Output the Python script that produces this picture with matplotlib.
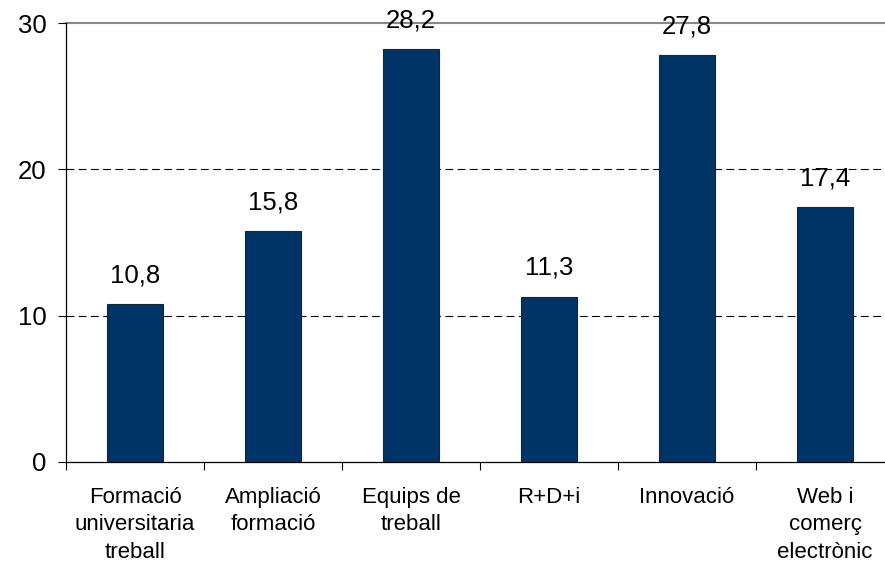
import matplotlib
matplotlib.use("Agg")
import matplotlib.pyplot as plt
import numpy as np

categories = ["Formació\nuniversitaria\ntreball", "Ampliació\nformació", "Equips de\ntreball",
              "R+D+i", "Innovació", "Web i\ncomerç\nelectrònic"]
values = [10.8, 15.8, 28.2, 11.3, 27.8, 17.4]
value_labels = ["10,8", "15,8", "28,2", "11,3", "27,8", "17,4"]
yticks = [0, 10, 20, 30]

plt.rcParams["font.family"] = ["Liberation Sans", "DejaVu Sans"]

fig = plt.figure(figsize=(8.85, 5.63), dpi=100)
ax = fig.add_axes([0.0746, 0.1794, 0.9356, 0.7797])

x = np.arange(len(values))
ax.bar(x, values, width=0.41, color="#003366", edgecolor="#222222", linewidth=0.8, zorder=3)

for xi, v, lab in zip(x, values, value_labels):
    ax.annotate(lab, (xi, v), xytext=(0, 12), textcoords="offset points",
                ha="center", va="bottom", fontsize=18.5, color="black", zorder=4)

ax.set_xlim(-0.5, len(values) - 0.5)
ax.set_ylim(0, 30)

# dashed gridlines at 10 and 20, solid grey line at the top
for yv in yticks[1:-1]:
    ax.axhline(yv, color="black", linestyle=(0, (7, 4)), linewidth=0.8, zorder=1)
ax.axhline(30, color="#888888", linewidth=1.5, zorder=1, clip_on=False)

ax.set_yticks(yticks)
ax.set_yticklabels([str(t) for t in yticks], fontsize=18.5)
ax.tick_params(axis="y", direction="out", length=6, width=0.8, pad=8)

ax.set_xticks(np.arange(-0.5, len(values), 1.0))
ax.set_xticklabels([])
ax.set_xticks(x, minor=True)
ax.set_xticklabels(categories, minor=True, fontsize=16, linespacing=1.4)
ax.tick_params(axis="x", which="major", direction="out", length=6, width=0.8)
ax.tick_params(axis="x", which="minor", length=0, pad=18)

for side in ["top", "right"]:
    ax.spines[side].set_visible(False)
ax.spines["left"].set_color("black")
ax.spines["bottom"].set_color("black")
ax.spines["left"].set_linewidth(0.9)
ax.spines["bottom"].set_linewidth(0.9)

fig.savefig("out.png", dpi=100)
